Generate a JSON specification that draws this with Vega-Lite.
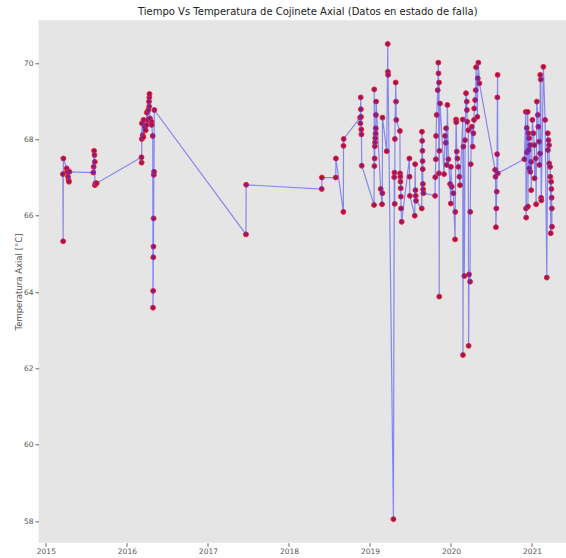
{
  "$schema": "https://vega.github.io/schema/vega-lite/v6.json",
  "autosize": {"type": "none"},
  "width": 527.5,
  "height": 522.5,
  "padding": {"left": 38.5, "top": 20.3, "right": 0, "bottom": 15.2},
  "background": "white",
  "title": {"text": "Tiempo Vs Temperatura de Cojinete Axial (Datos en estado de falla)", "font": "DejaVu Sans", "fontSize": 10, "fontWeight": "normal", "color": "#222222", "anchor": "middle", "dx": 5.5, "offset": 3},
  "config": {
    "view": {"fill": "#e5e5e5", "stroke": null},
    "axis": {"domain": false, "grid": false, "tickColor": "#666666", "tickSize": 3.5, "labelColor": "#555555", "labelFontSize": 7.5, "labelFont": "DejaVu Sans", "titleFont": "DejaVu Sans", "titleFontSize": 8.5, "titleFontWeight": "normal", "titleColor": "#555555"}
  },
  "data": {"values": [
    {"anio": 2015.210, "temp": 67.09}, {"anio": 2015.213, "temp": 65.33}, {"anio": 2015.216, "temp": 67.50},
    {"anio": 2015.257, "temp": 67.24}, {"anio": 2015.262, "temp": 67.15}, {"anio": 2015.273, "temp": 67.02}, {"anio": 2015.280, "temp": 66.93}, {"anio": 2015.285, "temp": 66.89}, {"anio": 2015.290, "temp": 67.15},
    {"anio": 2015.585, "temp": 67.13}, {"anio": 2015.590, "temp": 67.28}, {"anio": 2015.595, "temp": 67.70}, {"anio": 2015.600, "temp": 67.59}, {"anio": 2015.604, "temp": 67.41}, {"anio": 2015.606, "temp": 66.80}, {"anio": 2015.612, "temp": 66.85}, {"anio": 2015.627, "temp": 66.85},
    {"anio": 2016.180, "temp": 67.53}, {"anio": 2016.182, "temp": 67.39}, {"anio": 2016.184, "temp": 68.01}, {"anio": 2016.186, "temp": 68.42}, {"anio": 2016.195, "temp": 68.11}, {"anio": 2016.203, "temp": 68.06}, {"anio": 2016.205, "temp": 68.51}, {"anio": 2016.223, "temp": 68.32}, {"anio": 2016.232, "temp": 68.24}, {"anio": 2016.244, "temp": 68.38}, {"anio": 2016.246, "temp": 68.70}, {"anio": 2016.257, "temp": 68.51}, {"anio": 2016.264, "temp": 68.77}, {"anio": 2016.273, "temp": 68.99}, {"anio": 2016.275, "temp": 68.86}, {"anio": 2016.277, "temp": 69.10}, {"anio": 2016.279, "temp": 69.19}, {"anio": 2016.285, "temp": 68.55}, {"anio": 2016.304, "temp": 68.46}, {"anio": 2016.306, "temp": 68.38}, {"anio": 2016.319, "temp": 68.09}, {"anio": 2016.322, "temp": 63.59}, {"anio": 2016.324, "temp": 64.03}, {"anio": 2016.326, "temp": 64.91}, {"anio": 2016.328, "temp": 65.19}, {"anio": 2016.330, "temp": 65.93}, {"anio": 2016.333, "temp": 67.07}, {"anio": 2016.335, "temp": 67.15}, {"anio": 2016.338, "temp": 68.77},
    {"anio": 2017.470, "temp": 65.51}, {"anio": 2017.472, "temp": 66.81},
    {"anio": 2018.405, "temp": 66.70}, {"anio": 2018.407, "temp": 67.00}, {"anio": 2018.578, "temp": 67.00}, {"anio": 2018.580, "temp": 67.50}, {"anio": 2018.672, "temp": 66.10}, {"anio": 2018.674, "temp": 67.83}, {"anio": 2018.676, "temp": 68.01},
    {"anio": 2018.878, "temp": 68.57}, {"anio": 2018.882, "temp": 68.42}, {"anio": 2018.886, "temp": 69.10}, {"anio": 2018.888, "temp": 68.79}, {"anio": 2018.890, "temp": 68.59}, {"anio": 2018.893, "temp": 68.26}, {"anio": 2018.895, "temp": 68.13}, {"anio": 2018.899, "temp": 67.31},
    {"anio": 2019.051, "temp": 66.28}, {"anio": 2019.053, "temp": 69.31}, {"anio": 2019.055, "temp": 67.30}, {"anio": 2019.058, "temp": 67.50}, {"anio": 2019.061, "temp": 67.82}, {"anio": 2019.063, "temp": 67.92}, {"anio": 2019.066, "temp": 68.03}, {"anio": 2019.069, "temp": 68.15}, {"anio": 2019.072, "temp": 68.29}, {"anio": 2019.074, "temp": 68.64}, {"anio": 2019.076, "temp": 68.99},
    {"anio": 2019.133, "temp": 66.70}, {"anio": 2019.149, "temp": 66.30}, {"anio": 2019.153, "temp": 66.59}, {"anio": 2019.155, "temp": 68.57}, {"anio": 2019.207, "temp": 67.69},
    {"anio": 2019.220, "temp": 70.50}, {"anio": 2019.222, "temp": 69.77}, {"anio": 2019.224, "temp": 69.69},
    {"anio": 2019.290, "temp": 58.05}, {"anio": 2019.300, "temp": 67.01}, {"anio": 2019.303, "temp": 67.13}, {"anio": 2019.306, "temp": 66.31}, {"anio": 2019.308, "temp": 68.01}, {"anio": 2019.318, "temp": 69.49}, {"anio": 2019.322, "temp": 68.99}, {"anio": 2019.325, "temp": 68.51},
    {"anio": 2019.370, "temp": 68.22}, {"anio": 2019.372, "temp": 67.11}, {"anio": 2019.375, "temp": 67.02}, {"anio": 2019.377, "temp": 66.89}, {"anio": 2019.380, "temp": 66.72}, {"anio": 2019.382, "temp": 66.50}, {"anio": 2019.384, "temp": 66.19}, {"anio": 2019.392, "temp": 65.84},
    {"anio": 2019.487, "temp": 67.50}, {"anio": 2019.489, "temp": 67.02}, {"anio": 2019.493, "temp": 66.52},
    {"anio": 2019.553, "temp": 66.00}, {"anio": 2019.558, "temp": 67.35}, {"anio": 2019.562, "temp": 66.67}, {"anio": 2019.565, "temp": 66.52}, {"anio": 2019.569, "temp": 66.39},
    {"anio": 2019.640, "temp": 66.19}, {"anio": 2019.642, "temp": 68.20}, {"anio": 2019.645, "temp": 67.96}, {"anio": 2019.648, "temp": 67.70}, {"anio": 2019.650, "temp": 67.43}, {"anio": 2019.652, "temp": 67.22}, {"anio": 2019.654, "temp": 66.83}, {"anio": 2019.656, "temp": 66.69}, {"anio": 2019.660, "temp": 66.59},
    {"anio": 2019.804, "temp": 66.52}, {"anio": 2019.806, "temp": 67.01}, {"anio": 2019.814, "temp": 67.48}, {"anio": 2019.816, "temp": 68.09}, {"anio": 2019.824, "temp": 68.64}, {"anio": 2019.837, "temp": 69.29}, {"anio": 2019.844, "temp": 70.01}, {"anio": 2019.846, "temp": 69.73}, {"anio": 2019.851, "temp": 67.11}, {"anio": 2019.853, "temp": 69.49}, {"anio": 2019.855, "temp": 63.88}, {"anio": 2019.857, "temp": 67.70}, {"anio": 2019.865, "temp": 68.94},
    {"anio": 2019.915, "temp": 67.09}, {"anio": 2019.927, "temp": 68.09}, {"anio": 2019.936, "temp": 67.91}, {"anio": 2019.940, "temp": 68.29}, {"anio": 2019.948, "temp": 67.33}, {"anio": 2019.956, "temp": 68.90}, {"anio": 2019.968, "temp": 67.48}, {"anio": 2019.989, "temp": 66.83}, {"anio": 2019.998, "temp": 66.32},
    {"anio": 2020.000, "temp": 67.28}, {"anio": 2020.010, "temp": 66.76}, {"anio": 2020.030, "temp": 66.59}, {"anio": 2020.051, "temp": 65.38}, {"anio": 2020.053, "temp": 66.10}, {"anio": 2020.063, "temp": 68.52}, {"anio": 2020.065, "temp": 68.45}, {"anio": 2020.072, "temp": 67.68}, {"anio": 2020.079, "temp": 67.50}, {"anio": 2020.091, "temp": 67.28}, {"anio": 2020.104, "temp": 67.02}, {"anio": 2020.112, "temp": 66.80},
    {"anio": 2020.146, "temp": 68.52}, {"anio": 2020.148, "temp": 62.35}, {"anio": 2020.153, "temp": 67.81}, {"anio": 2020.165, "temp": 64.42}, {"anio": 2020.174, "temp": 67.98}, {"anio": 2020.186, "temp": 69.21}, {"anio": 2020.195, "temp": 68.99}, {"anio": 2020.197, "temp": 68.77}, {"anio": 2020.202, "temp": 68.46}, {"anio": 2020.214, "temp": 68.24}, {"anio": 2020.218, "temp": 62.59}, {"anio": 2020.223, "temp": 64.46}, {"anio": 2020.236, "temp": 64.27}, {"anio": 2020.238, "temp": 66.10}, {"anio": 2020.244, "temp": 67.35}, {"anio": 2020.257, "temp": 68.33}, {"anio": 2020.269, "temp": 67.81}, {"anio": 2020.277, "temp": 68.16}, {"anio": 2020.285, "temp": 68.51}, {"anio": 2020.287, "temp": 68.81}, {"anio": 2020.298, "temp": 69.03}, {"anio": 2020.306, "temp": 69.29}, {"anio": 2020.310, "temp": 69.89}, {"anio": 2020.326, "temp": 68.59}, {"anio": 2020.331, "temp": 69.60}, {"anio": 2020.338, "temp": 70.01}, {"anio": 2020.351, "temp": 69.47},
    {"anio": 2020.545, "temp": 67.20}, {"anio": 2020.550, "temp": 67.02}, {"anio": 2020.555, "temp": 65.70}, {"anio": 2020.560, "temp": 66.19}, {"anio": 2020.565, "temp": 66.63}, {"anio": 2020.570, "temp": 67.61}, {"anio": 2020.573, "temp": 69.10}, {"anio": 2020.576, "temp": 69.69}, {"anio": 2020.578, "temp": 67.11},
    {"anio": 2020.906, "temp": 67.48}, {"anio": 2020.924, "temp": 68.72}, {"anio": 2020.926, "temp": 66.19}, {"anio": 2020.928, "temp": 65.95}, {"anio": 2020.936, "temp": 68.30}, {"anio": 2020.938, "temp": 67.66}, {"anio": 2020.948, "temp": 68.72}, {"anio": 2020.950, "temp": 66.24}, {"anio": 2020.956, "temp": 68.16}, {"anio": 2020.958, "temp": 67.72}, {"anio": 2020.964, "temp": 68.03}, {"anio": 2020.966, "temp": 67.24}, {"anio": 2020.977, "temp": 67.85}, {"anio": 2020.979, "temp": 67.15}, {"anio": 2020.989, "temp": 67.41}, {"anio": 2020.991, "temp": 66.67},
    {"anio": 2021.005, "temp": 68.51}, {"anio": 2021.017, "temp": 68.16}, {"anio": 2021.030, "temp": 67.85}, {"anio": 2021.032, "temp": 66.98}, {"anio": 2021.047, "temp": 67.50}, {"anio": 2021.051, "temp": 66.30}, {"anio": 2021.060, "temp": 68.99}, {"anio": 2021.072, "temp": 68.64}, {"anio": 2021.079, "temp": 68.33}, {"anio": 2021.088, "temp": 67.94}, {"anio": 2021.091, "temp": 67.33}, {"anio": 2021.100, "temp": 67.63}, {"anio": 2021.102, "temp": 69.69}, {"anio": 2021.109, "temp": 69.57}, {"anio": 2021.113, "temp": 66.47}, {"anio": 2021.115, "temp": 66.40}, {"anio": 2021.141, "temp": 69.90}, {"anio": 2021.162, "temp": 68.51}, {"anio": 2021.183, "temp": 64.38}, {"anio": 2021.195, "temp": 68.16}, {"anio": 2021.197, "temp": 67.72}, {"anio": 2021.203, "temp": 67.98}, {"anio": 2021.211, "temp": 67.85}, {"anio": 2021.213, "temp": 67.37}, {"anio": 2021.224, "temp": 67.28}, {"anio": 2021.226, "temp": 67.02}, {"anio": 2021.232, "temp": 65.54}, {"anio": 2021.236, "temp": 66.89}, {"anio": 2021.240, "temp": 66.70}, {"anio": 2021.243, "temp": 66.47}, {"anio": 2021.245, "temp": 66.19}, {"anio": 2021.247, "temp": 65.71}
  ]},
  "encoding": {
    "x": {"field": "anio", "type": "quantitative", "scale": {"domain": [2014.909, 2021.42], "nice": false, "zero": false}, "axis": {"title": null, "values": [2015, 2016, 2017, 2018, 2019, 2020, 2021], "format": "d", "labelPadding": 1}},
    "y": {"field": "temp", "type": "quantitative", "scale": {"domain": [57.43, 71.12], "nice": false, "zero": false}, "axis": {"title": "Temperatura Axial [°C]", "values": [58, 60, 62, 64, 66, 68, 70], "labelPadding": 2, "titlePadding": 0}}
  },
  "layer": [
    {"mark": {"type": "point", "filled": true, "size": 24, "fill": "#a8103c", "stroke": "#f0203a", "strokeWidth": 1, "opacity": 1}},
    {"mark": {"type": "line", "color": "#3a3af0", "opacity": 0.55, "strokeWidth": 1.2}}
  ]
}
